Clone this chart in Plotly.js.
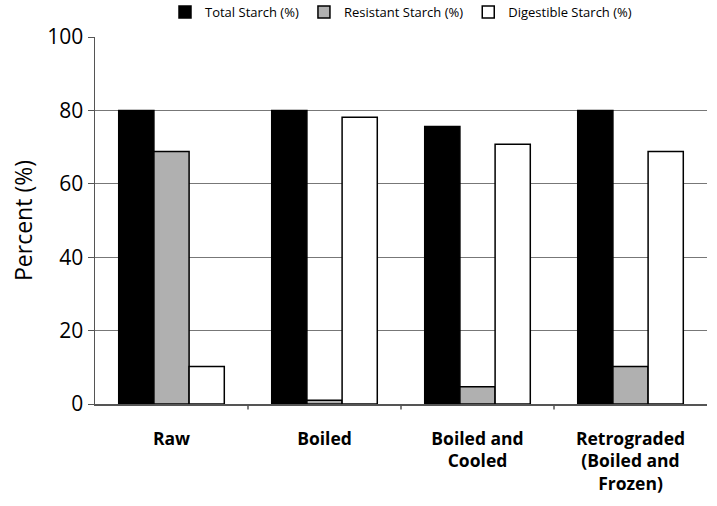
<!DOCTYPE html>
<html>
<head>
<meta charset="utf-8">
<script src="https://cdn.plot.ly/plotly-3.0.1.min.js"></script>
<style>
  html, body { margin: 0; padding: 0; background: #fff; }
  #plot { width: 717px; height: 506px; }
</style>
</head>
<body>
<div id="plot"></div>
<script>
// categorias y valores
var categorias = ['Raw', 'Boiled', 'Boiled and<br>Cooled', 'Retrograded<br>(Boiled and<br>Frozen)'];
var totalStarch = [80, 80, 75.6, 80];
var resistantStarch = [68.8, 1.0, 4.7, 10.2];
var digestibleStarch = [10.2, 78.1, 70.8, 68.8];
var yTicks = [0, 20, 40, 60, 80, 100];

var fuente = 'Open Sans, Liberation Sans, sans-serif';

var serieTotal = {
    name: 'Total Starch (%)', x: categorias, y: totalStarch, type: 'bar',
    marker: { color: '#000000', line: { color: '#000000', width: 1.5 } }
};
var serieResistente = {
    name: 'Resistant Starch (%)', x: categorias, y: resistantStarch, type: 'bar',
    marker: { color: '#b0b0b0', line: { color: '#000000', width: 1.5 } }
};
var serieDigestible = {
    name: 'Digestible Starch (%)', x: categorias, y: digestibleStarch, type: 'bar',
    marker: { color: '#ffffff', line: { color: '#000000', width: 1.5 } }
};

var layout = {
    width: 717,
    height: 506,
    margin: { l: 95, r: 10, t: 37, b: 102 },
    paper_bgcolor: '#ffffff',
    plot_bgcolor: '#ffffff',
    barmode: 'group',
    bargap: 0.31,
    bargroupgap: 0,
    font: { family: fuente, color: '#000' },
    showlegend: true,
    legend: {
        orientation: 'h', x: 0.5, xanchor: 'center',
        yref: 'container', y: 0.976, yanchor: 'middle',
        font: { size: 13, family: fuente }, traceorder: 'normal', itemwidth: 14
    },
    xaxis: {
        type: 'category',
        showline: true, linecolor: '#555', linewidth: 1.5,
        showgrid: false,
        ticks: '',
        ticklabelstandoff: 18,
        tickfont: { size: 17.5, family: fuente, weight: 'bold' },
        fixedrange: true
    },
    yaxis: {
        range: [0, 100],
        tickvals: yTicks,
        showline: true, linecolor: '#555', linewidth: 1.5,
        ticks: 'outside', ticklen: 6, tickcolor: '#555',
        showgrid: true, gridcolor: '#777', gridwidth: 1,
        zeroline: false,
        tickfont: { size: 21, family: fuente },
        title: { text: 'Percent (%)', font: { size: 23, family: fuente }, standoff: 8 },
        fixedrange: true
    },
    shapes: [1, 2, 3].map(function (i) {
        return {
            type: 'line', xref: 'x', yref: 'paper',
            x0: i - 0.5, x1: i - 0.5, y0: 0, y1: -0.015,
            line: { color: '#555', width: 1.5 }
        };
    })
};

Plotly.newPlot('plot', [serieTotal, serieResistente, serieDigestible], layout, { displayModeBar: false, staticPlot: true });
</script>
</body>
</html>
